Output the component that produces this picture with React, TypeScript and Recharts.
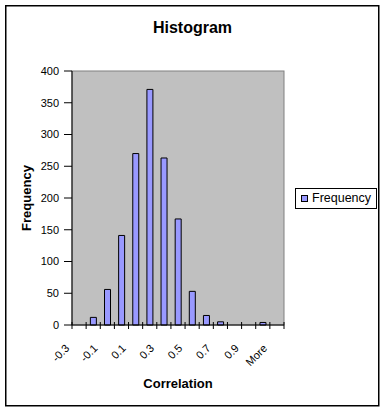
import React from 'react';
import { BarChart, Bar, XAxis, YAxis, CartesianGrid, Legend } from 'recharts';

const categories = ['-0.3', '-0.2', '-0.1', '0', '0.1', '0.2', '0.3', '0.4', '0.5', '0.6', '0.7', '0.8', '0.9', '1', 'More'];
const frequency = [0, 12, 56, 141, 270, 371, 263, 167, 53, 15, 5, 0, 0, 4, 0];
const yTicks = [0, 50, 100, 150, 200, 250, 300, 350, 400];

const data = categories.map((c, i) => ({ bin: c, Frequency: frequency[i] }));

const W = 382;
const H = 412;
const PLOT_L = 72;
const PLOT_T = 71;
const PLOT_R = 284;
const PLOT_B = 325;
const PLOT_W = PLOT_R - PLOT_L;
const PLOT_H = PLOT_B - PLOT_T;
const BW = PLOT_W / categories.length;
const FONT = '"Liberation Sans", Arial, sans-serif';

const XTick = (props: any) => {
  const { x, y, payload, index } = props;
  const idx = payload && typeof payload.index === 'number' ? payload.index : index;
  const lx = x - 9;
  const ly = y + 24;
  return (
    <g>
      <line x1={x - BW / 2} x2={x - BW / 2} y1={y - 3} y2={y + 4} stroke="#000" />
      {idx === categories.length - 1 && (
        <line x1={x + BW / 2} x2={x + BW / 2} y1={y - 3} y2={y + 4} stroke="#000" />
      )}
      {idx % 2 === 0 && (
        <text
          x={lx}
          y={ly}
          transform={`rotate(-45 ${lx} ${ly})`}
          textAnchor="end"
          fontSize={11}
          fontFamily={FONT}
          fill="#000"
        >
          {payload.value}
        </text>
      )}
    </g>
  );
};

const LegendBox = (props: any) => {
  const { payload } = props;
  const name = payload && payload[0] ? payload[0].value : 'Frequency';
  return (
    <div
      style={{
        boxSizing: 'border-box',
        width: 82,
        height: 21,
        border: '1px solid #000',
        background: '#fff',
        display: 'flex',
        alignItems: 'center',
        fontFamily: FONT,
        fontSize: 12.5,
        color: '#000',
        lineHeight: '19px',
      }}
    >
      <span
        style={{
          display: 'inline-block',
          width: 5,
          height: 5,
          border: '1px solid #000',
          background: '#9999FF',
          marginLeft: 5,
          marginRight: 4,
        }}
      />
      <span>{name}</span>
    </div>
  );
};

export default function App() {
  return (
    <div style={{ position: 'absolute', left: 0, top: 0, width: W, height: H, background: '#fff' }}>
      <BarChart
        width={W}
        height={H}
        data={data}
        margin={{ top: PLOT_T, right: W - PLOT_R, left: 0, bottom: 0 }}
        barCategoryGap="30%"
      >
        <CartesianGrid fill="#C0C0C0" fillOpacity={1} horizontal={false} vertical={false} />
        <rect x={5.75} y={5.75} width={373} height={400} fill="none" stroke="#000" strokeWidth={1.5} />
        <rect x={PLOT_L} y={PLOT_T} width={PLOT_W} height={PLOT_H} fill="none" stroke="#808080" strokeWidth={1} />
        <XAxis
          dataKey="bin"
          interval={0}
          height={H - PLOT_B}
          tickLine={false}
          tickSize={0}
          tickMargin={0}
          axisLine={{ stroke: '#000' }}
          tick={<XTick />}
        />
        <YAxis
          width={PLOT_L}
          domain={[0, 400]}
          ticks={yTicks}
          interval={0}
          tickSize={8}
          tickMargin={5}
          axisLine={{ stroke: '#000' }}
          tickLine={{ stroke: '#000' }}
          tick={{ fill: '#000', fontSize: 11, fontFamily: FONT }}
        />
        <Bar dataKey="Frequency" fill="#9999FF" stroke="#000" strokeWidth={1} isAnimationActive={false} />
        <Legend
          layout="vertical"
          align="center"
          verticalAlign="middle"
          wrapperStyle={{ position: 'absolute', left: 295, top: 188, width: 82, height: 21 }}
          content={<LegendBox />}
        />
        <text x={192.5} y={32.5} textAnchor="middle" fontSize={16} fontWeight="bold" fontFamily={FONT} fill="#000">
          Histogram
        </text>
        <text
          x={31}
          y={198}
          transform="rotate(-90 31 198)"
          textAnchor="middle"
          fontSize={13}
          fontWeight="bold"
          fontFamily={FONT}
          fill="#000"
        >
          Frequency
        </text>
        <text x={178} y={388} textAnchor="middle" fontSize={13} fontWeight="bold" fontFamily={FONT} fill="#000">
          Correlation
        </text>
      </BarChart>
    </div>
  );
}
